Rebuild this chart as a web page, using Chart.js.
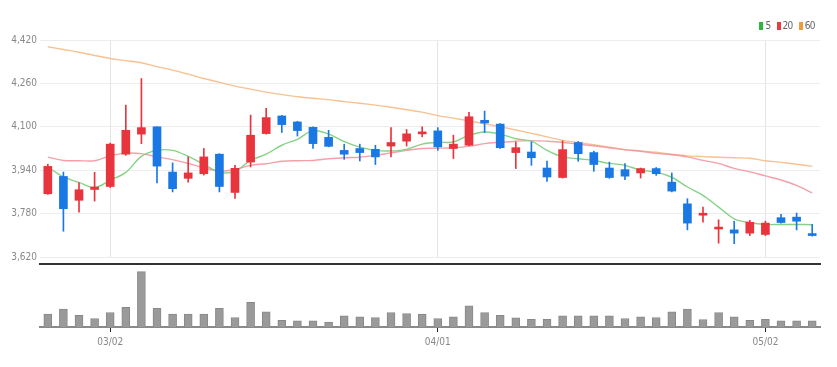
<!DOCTYPE html>
<html><head><meta charset="utf-8">
<script src="https://cdn.jsdelivr.net/npm/chart.js@4.4.1/dist/chart.umd.min.js"></script>
<style>
html,body{margin:0;padding:0;background:#fff;}
#wrap{position:relative;width:837px;height:367px;overflow:hidden;background:#fff;}
#price{position:absolute;left:0;top:0;}
#vol{position:absolute;left:0;top:258px;}
#legend{position:absolute;top:20px;right:22px;font:10px 'Liberation Sans Narrow','DejaVu Sans Condensed',sans-serif;color:#666;display:flex;align-items:center;line-height:12px;}
#legend .it{display:inline-flex;align-items:center;margin-left:6px;}
#legend .sw{display:inline-block;width:4px;height:8px;margin-right:2px;}
#legend .tx{display:inline-block;letter-spacing:-0.6px;}
</style></head>
<body>
<div id="wrap">
<canvas id="price" width="837" height="266"></canvas>
<canvas id="vol" width="837" height="109"></canvas>
<div id="legend"></div>
</div>
<script>
// ---- data ----
const dates = ["02/23","02/24","02/25","02/28",
"03/02","03/03","03/04","03/07","03/08","03/10","03/11","03/14","03/15","03/16","03/17","03/18","03/21","03/22","03/23","03/24","03/25","03/28","03/29","03/30","03/31",
"04/01","04/04","04/05","04/06","04/07","04/08","04/11","04/12","04/13","04/14","04/15","04/18","04/19","04/20","04/21","04/22","04/25","04/26","04/27","04/28","04/29",
"05/02","05/03","05/04","05/06"];
const opens  = [3853,3917,3829,3869,3880,3999,4073,4100,3933,3910,3927,3999,3858,3970,4075,4140,4118,4098,4061,4013,4020,4017,4029,4047,4074,4085,4020,4032,4124,4110,4005,4007,3948,3913,4042,4005,3948,3942,3930,3946,3896,3816,3774,3723,3720,3708,3703,3765,3767,3705];
const highs  = [3962,3933,3893,3932,4040,4180,4278,4100,3967,3989,4020,4001,3958,4143,4168,4142,4120,4100,4087,4036,4036,4032,4097,4090,4100,4097,4069,4153,4158,4112,4044,4044,3974,4048,4046,4010,3970,3964,3948,3950,3930,3835,3804,3757,3752,3755,3752,3777,3782,3740];
const lows   = [3851,3715,3785,3826,3876,3995,4038,3893,3860,3896,3922,3860,3836,3952,4073,4079,4066,4020,4026,3980,3974,3961,3989,4029,4063,4013,3983,4030,4079,4020,3946,3958,3899,3911,3973,3936,3910,3905,3911,3921,3860,3720,3748,3671,3669,3699,3699,3745,3720,3697];
const closes = [3954,3798,3868,3878,4036,4087,4097,3955,3872,3930,3989,3880,3947,4069,4134,4108,4086,4038,4028,3999,4005,3989,4042,4074,4081,4026,4036,4137,4114,4023,4023,3986,3915,4016,4001,3961,3913,3918,3946,3927,3863,3745,3777,3727,3708,3748,3745,3747,3752,3699];
const ma5  = [3952,3915,3895,3876,3903,3932,3991,4013,4013,3991,3962,3932,3936,3976,3999,4032,4054,4086,4073,4045,4025,4013,4011,4017,4036,4043,4044,4069,4081,4073,4056,4047,4013,3989,3982,3976,3965,3958,3940,3933,3914,3878,3847,3804,3761,3747,3740,3740,3740,3739];
const ma20 = [3988,3976,3975,3975,3993,4003,4001,3989,3979,3965,3949,3937,3943,3958,3964,3973,3975,3976,3982,3986,3988,3995,4004,4013,4020,4021,4023,4028,4038,4043,4047,4049,4047,4043,4036,4030,4023,4015,4010,4002,3997,3989,3976,3965,3947,3934,3919,3904,3884,3856];
const ma60 = [4395,4385,4375,4363,4352,4344,4336,4322,4309,4294,4278,4264,4250,4239,4228,4219,4211,4205,4200,4193,4187,4180,4172,4163,4154,4141,4132,4122,4111,4100,4088,4076,4063,4050,4042,4034,4025,4016,4011,4006,3999,3993,3990,3988,3986,3984,3975,3969,3962,3954];
const volumes = [254000,354000,234000,168000,288000,388000,1100000,368000,254000,254000,254000,368000,188000,488000,300000,134000,120000,120000,100000,220000,200000,188000,288000,268000,254000,168000,200000,420000,288000,234000,180000,154000,154000,220000,220000,220000,220000,168000,200000,188000,300000,354000,148000,288000,200000,134000,154000,120000,120000,120000];
const yTicks = [3620,3780,3940,4100,4260,4420];
const maNames = ["5","20","60"];

// ---- styles ----
const FONT = "'Liberation Sans Narrow','DejaVu Sans Condensed',sans-serif";
Chart.defaults.font.family = FONT;
Chart.defaults.font.size = 10;
Chart.defaults.color = '#888';
const UP = '#e8343c', DOWN = '#1a78e4';
const lineColors = ['rgba(120,205,120,0.9)','rgba(244,150,160,0.9)','rgba(248,190,140,0.95)'];
const swatchColors = ['#2bb83a','#ec3a45','#f29a36'];
const candleColors = opens.map((o,i)=> closes[i] >= o ? UP : DOWN);
const isTick = i => i > 0 && dates[i].slice(0,2) !== dates[i-1].slice(0,2);

// legend
const lg = document.getElementById('legend');
maNames.forEach((n,k)=>{
  const it = document.createElement('span'); it.className='it';
  const sw = document.createElement('span'); sw.className='sw'; sw.style.background = swatchColors[k];
  const tx = document.createElement('span'); tx.className='tx'; tx.textContent = n;
  it.appendChild(sw); it.appendChild(tx); lg.appendChild(it);
});

const maData = [ma5, ma20, ma60];
const lineSets = maData.map((d,k)=>({
  type:'line', label:maNames[k], data:d, borderColor:lineColors[k], borderWidth:1.4,
  pointRadius:0, tension:0.35, fill:false, order:2+k
}));

new Chart(document.getElementById('price'), {
  type:'bar',
  data:{labels:dates, datasets:[
    {type:'bar', label:'body', data:opens.map((o,i)=>[o,closes[i]]), backgroundColor:candleColors, barThickness:8, minBarLength:2, grouped:false, order:0},
    {type:'bar', label:'wick', data:lows.map((l,i)=>[l,highs[i]]), backgroundColor:candleColors, barThickness:1, grouped:false, order:1},
    ...lineSets
  ]},
  options:{
    responsive:false, animation:false, events:[],
    layout:{padding:{top:40,right:17,left:0,bottom:0}},
    plugins:{legend:{display:false}, tooltip:{enabled:false}},
    scales:{
      x:{offset:true,
         grid:{offset:false, drawTicks:false, color:ctx=> isTick(ctx.index) ? '#e4e4e4' : 'rgba(0,0,0,0)'},
         border:{display:false}, ticks:{display:false, autoSkip:false},
         afterFit:s=>{s.height=1;}},
      y:{min:3620, max:4420,
         afterBuildTicks:s=>{s.ticks = yTicks.map(v=>({value:v}));},
         ticks:{callback:v=>Number(v).toLocaleString('en-US'), padding:3, color:'#888'},
         grid:{color:'#ececec', drawTicks:false}, border:{display:false},
         afterFit:s=>{s.width=40;}}
    }
  }
});

new Chart(document.getElementById('vol'), {
  type:'bar',
  data:{labels:dates, datasets:[{label:'volume', data:volumes, backgroundColor:'#9a9a9a', borderColor:'#888', borderWidth:1, barThickness:8}]},
  options:{
    responsive:false, animation:false, events:[],
    layout:{padding:{top:6,right:17,left:0,bottom:0}},
    plugins:{legend:{display:false}, tooltip:{enabled:false}},
    scales:{
      x:{position:'bottom', offset:true,
         grid:{offset:false, drawOnChartArea:false, drawTicks:true, tickLength:5, color:'rgba(0,0,0,0)',
               tickColor:ctx=> isTick(ctx.index) ? '#222' : 'rgba(0,0,0,0)'},
         border:{display:true, color:'#8a8a8a', width:2},
         ticks:{autoSkip:false, maxRotation:0, padding:4, color:'#888', callback:(v,i)=> isTick(i) ? dates[i] : ''},
         afterFit:s=>{s.height=40;}},
      x2:{position:'top', type:'category', offset:true,
         grid:{display:true, drawOnChartArea:false, drawTicks:false, color:'rgba(0,0,0,0)'},
         border:{display:true, color:'#333', width:2}, ticks:{display:false},
         afterFit:s=>{s.height=0;}},
      y:{min:0, max:1250000, ticks:{display:false}, grid:{display:false}, border:{display:false},
         afterFit:s=>{s.width=40;}}
    }
  }
});
</script>
</body></html>
